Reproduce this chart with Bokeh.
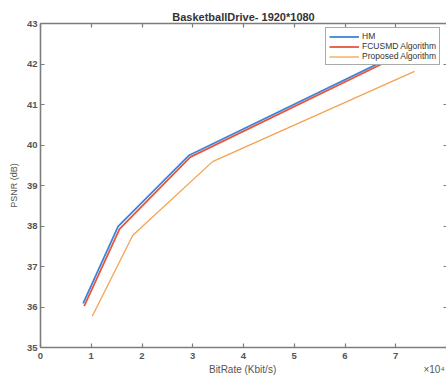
from bokeh.plotting import figure
from bokeh.models import Range1d, LinearAxis, Legend, LegendItem, FixedTicker
from bokeh.embed import file_html
from bokeh.resources import INLINE

# Data (BitRate in units of 1e4 Kbit/s, PSNR in dB)
hm_rate = [0.84, 1.53, 2.92, 7.05]
hm_psnr = [36.09, 37.99, 39.74, 42.25]
fc_rate = [0.86, 1.56, 2.95, 7.02]
fc_psnr = [36.02, 37.93, 39.70, 42.18]
pr_rate = [1.02, 1.82, 3.39, 7.37]
pr_psnr = [35.77, 37.77, 39.59, 41.82]

x_ticks = [0, 1, 2, 3, 4, 5, 6, 7, 8]
y_ticks = [35, 36, 37, 38, 39, 40, 41, 42, 43]
series_names = ["HM", "FCUSMD Algorithm", "Proposed Algorithm"]
colors = ["#3f86d8", "#e5573f", "#f5a24f"]
x_label = "BitRate (Kbit/s)"
x_scale = "×10⁴"

FONT = "Liberation Sans"
AX = "#7d7d7d"
TXT = "#4a4a4a"

p = figure(width=446, height=377, output_backend="svg", toolbar_location=None,
           x_range=Range1d(0, 8), y_range=Range1d(35, 43),
           min_border_left=40, min_border_right=0, min_border_top=23, min_border_bottom=30)

p.title.text = "BasketballDrive- 1920*1080"
p.title.align = "center"
p.title.text_font = FONT
p.title.text_font_size = "11px"
p.title.text_font_style = "bold"
p.title.text_color = "#333333"
p.title.standoff = 2
p.title.offset = 0

p.outline_line_color = None
p.grid.visible = False
p.background_fill_color = "white"
p.border_fill_color = "white"

for ax in (p.xaxis[0], p.yaxis[0]):
    ax.axis_line_color = AX
    ax.axis_line_width = 1.6
    ax.major_tick_line_color = AX
    ax.major_tick_line_width = 1.2
    ax.major_tick_in = 4
    ax.major_tick_out = 0
    ax.minor_tick_line_color = None
    ax.major_label_text_font = FONT
    ax.major_label_text_font_size = "9.5px"
    ax.major_label_text_font_style = "bold"
    ax.major_label_text_color = "#555555"
    ax.axis_label_text_font = FONT
    ax.axis_label_text_font_size = "9.5px"
    ax.axis_label_text_font_style = "normal"
    ax.axis_label_text_color = "#555555"
    ax.major_label_standoff = 3
    ax.axis_label_standoff = 3

NB = "\u00a0"
p.xaxis[0].ticker = FixedTicker(ticks=x_ticks)
p.xaxis[0].major_label_overrides = {8: ""}
p.xaxis[0].major_label_standoff = 5
p.xaxis[0].axis_label_standoff = 2
p.yaxis[0].ticker = FixedTicker(ticks=y_ticks)
# x-axis title centred under the frame, with the x10^4 multiplier at the right end
p.xaxis[0].axis_label = NB * 60 + x_label + NB * 53 + x_scale
p.xaxis[0].axis_label_text_font_size = "10px"
p.yaxis[0].axis_label = "PSNR (dB)"
p.yaxis[0].axis_label_text_font_size = "9px"
p.yaxis[0].axis_label_standoff = 5

top = LinearAxis(ticker=FixedTicker(ticks=x_ticks))
top.axis_line_color = AX
top.axis_line_width = 1.6
top.major_tick_line_color = AX
top.major_tick_line_width = 1.2
top.major_tick_in = 4
top.major_tick_out = 0
top.minor_tick_line_color = None
top.major_label_text_font_size = "0px"
top.major_label_standoff = 0
p.add_layout(top, "above")

right = LinearAxis(ticker=FixedTicker(ticks=y_ticks))
right.axis_line_color = None
right.major_tick_line_color = AX
right.major_tick_line_width = 1.2
right.major_tick_in = 3
right.major_tick_out = 0
right.minor_tick_line_color = None
right.major_label_text_font_size = "0px"
right.major_label_standoff = 0
p.add_layout(right, "right")

r1 = p.line(hm_rate, hm_psnr, line_color=colors[0], line_width=1.8)
r2 = p.line(fc_rate, fc_psnr, line_color=colors[1], line_width=1.8)
r3 = p.line(pr_rate, pr_psnr, line_color=colors[2], line_width=1.3)

legend = Legend(items=[LegendItem(label=series_names[0], renderers=[r1]),
                       LegendItem(label=series_names[1], renderers=[r2]),
                       LegendItem(label=series_names[2], renderers=[r3])],
                location=(285, 282))
legend.label_text_font = FONT
legend.label_text_font_size = "8.5px"
legend.label_text_color = "#333333"
legend.glyph_width = 30
legend.glyph_height = 9
legend.label_height = 9
legend.label_standoff = 3
legend.spacing = 0
legend.padding = 3
legend.margin = 0
legend.border_line_color = "#555555"
legend.border_line_width = 1
legend.background_fill_alpha = 1
p.add_layout(legend, "center")

open("out.html", "w").write(file_html(p, INLINE))
